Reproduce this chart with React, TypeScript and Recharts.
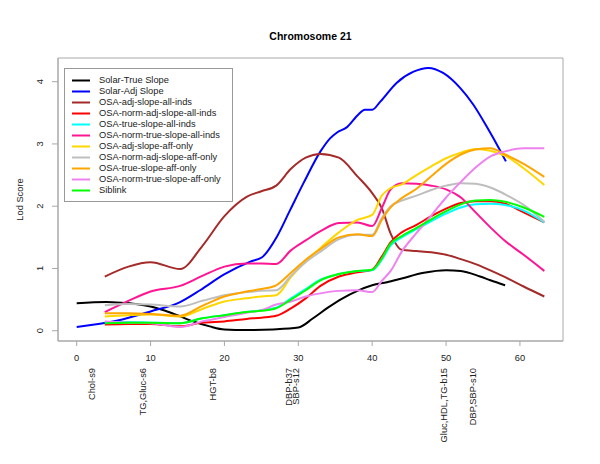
import React from 'react';
import { LineChart, Line, XAxis, YAxis, Legend, ReferenceArea, ReferenceLine } from 'recharts';

// ---- data ----
const TITLE = 'Chromosome 21';
const Y_LABEL = 'Lod Score';
const X_TICKS = [0, 10, 20, 30, 40, 50, 60];
const Y_TICKS = [0, 1, 2, 3, 4];
const MARKER_POS = [2, 9, 18.4, 28.7, 29.7, 49.7, 53.6];
const MARKER_LABELS = ['Chol-s9', 'TG,Gluc-s6', 'HGT-b8', 'DBP-b37', 'SBP-s12', 'Gluc,HDL,TG-b15', 'DBP,SBP-s10'];

const SOLAR_TRUE_X = [0, 4, 6, 8, 10, 12, 14, 16, 18, 20, 23, 26.6, 30, 32, 34, 36, 38, 40, 42, 44, 47, 50, 52, 54.6, 56, 58];
const SOLAR_TRUE_Y = [0.44, 0.46, 0.45, 0.43, 0.39, 0.32, 0.23, 0.14, 0.07, 0.02, 0.01, 0.02, 0.05, 0.2, 0.37, 0.52, 0.64, 0.73, 0.78, 0.84, 0.93, 0.97, 0.96, 0.87, 0.81, 0.73];

const SOLAR_ADJ_X = [0, 5.4, 10, 14, 16.7, 19.9, 23.5, 25.1, 27.1, 28.9, 30.7, 33, 34.3, 35.2, 36.6, 38.1, 39, 40, 41.1, 43.3, 45.6, 47.6, 49.6, 51.9, 53.7, 55.5, 57.3, 58.1];
const SOLAR_ADJ_Y = [0.06, 0.16, 0.31, 0.46, 0.65, 0.9, 1.11, 1.18, 1.51, 1.94, 2.37, 2.88, 3.09, 3.18, 3.27, 3.47, 3.55, 3.55, 3.68, 3.98, 4.16, 4.22, 4.14, 3.9, 3.63, 3.28, 2.9, 2.72];

const OSA_X = [3.8, 7, 10, 14, 17, 20, 23, 25, 27, 29, 31, 33, 35.5, 38, 40, 41.3, 42.5, 44, 46, 48, 50, 52, 54, 56, 58, 60.5, 63.3];
const OSA_ADJ_ALL = [0.87, 1.03, 1.10, 0.99, 1.36, 1.84, 2.15, 2.24, 2.33, 2.60, 2.78, 2.84, 2.78, 2.48, 2.21, 1.97, 1.56, 1.30, 1.28, 1.26, 1.22, 1.15, 1.07, 0.97, 0.86, 0.71, 0.55];
const OSA_NORM_ADJ_ALL = [0.10, 0.11, 0.11, 0.07, 0.13, 0.15, 0.19, 0.21, 0.24, 0.36, 0.52, 0.72, 0.87, 0.94, 0.98, 1.19, 1.42, 1.58, 1.70, 1.84, 1.96, 2.05, 2.08, 2.08, 2.04, 1.90, 1.74];
const OSA_TRUE_ALL = [0.14, 0.14, 0.13, 0.12, 0.20, 0.25, 0.30, 0.33, 0.37, 0.52, 0.67, 0.82, 0.91, 0.96, 0.97, 1.14, 1.37, 1.50, 1.63, 1.76, 1.88, 1.98, 2.03, 2.04, 2.02, 1.93, 1.74];
const OSA_NORM_TRUE_ALL = [0.30, 0.48, 0.63, 0.72, 0.88, 1.03, 1.08, 1.08, 1.07, 1.29, 1.45, 1.60, 1.73, 1.74, 1.68, 1.97, 2.27, 2.37, 2.36, 2.33, 2.27, 2.14, 1.90, 1.66, 1.44, 1.22, 0.96];
const OSA_ADJ_AFF = [0.23, 0.25, 0.26, 0.23, 0.35, 0.47, 0.52, 0.55, 0.57, 0.86, 1.12, 1.33, 1.58, 1.78, 1.86, 2.17, 2.29, 2.35, 2.50, 2.64, 2.77, 2.86, 2.92, 2.89, 2.81, 2.61, 2.34];
const OSA_NORM_ADJ_AFF = [0.41, 0.43, 0.42, 0.39, 0.48, 0.57, 0.62, 0.64, 0.65, 0.88, 1.10, 1.27, 1.47, 1.54, 1.54, 1.81, 2.00, 2.09, 2.17, 2.26, 2.33, 2.37, 2.36, 2.30, 2.19, 2.02, 1.75];
const OSA_TRUE_AFF = [0.28, 0.28, 0.27, 0.24, 0.40, 0.55, 0.63, 0.67, 0.73, 0.93, 1.14, 1.31, 1.50, 1.55, 1.52, 1.78, 1.98, 2.13, 2.28, 2.48, 2.68, 2.83, 2.91, 2.93, 2.83, 2.68, 2.47];
const OSA_NORM_TRUE_AFF = [0.15, 0.13, 0.12, 0.06, 0.15, 0.22, 0.29, 0.33, 0.42, 0.47, 0.55, 0.60, 0.64, 0.65, 0.62, 0.80, 0.96, 1.27, 1.57, 1.85, 2.14, 2.39, 2.62, 2.80, 2.88, 2.93, 2.93];
const SIBLINK = [0.12, 0.13, 0.13, 0.12, 0.20, 0.25, 0.30, 0.32, 0.36, 0.50, 0.65, 0.81, 0.91, 0.96, 0.98, 1.16, 1.40, 1.52, 1.65, 1.79, 1.92, 2.03, 2.09, 2.10, 2.07, 1.98, 1.83];

const toPoints = (xs: number[], ys: number[]) => xs.map((x, i) => ({ x, y: ys[i] }));

const SERIES = [
  { name: 'Solar-True Slope', color: '#000000', data: toPoints(SOLAR_TRUE_X, SOLAR_TRUE_Y) },
  { name: 'Solar-Adj Slope', color: '#0000FF', data: toPoints(SOLAR_ADJ_X, SOLAR_ADJ_Y) },
  { name: 'OSA-adj-slope-all-inds', color: '#A52A2A', data: toPoints(OSA_X, OSA_ADJ_ALL) },
  { name: 'OSA-norm-adj-slope-all-inds', color: '#FF0000', data: toPoints(OSA_X, OSA_NORM_ADJ_ALL) },
  { name: 'OSA-true-slope-all-inds', color: '#00FFFF', data: toPoints(OSA_X, OSA_TRUE_ALL) },
  { name: 'OSA-norm-true-slope-all-inds', color: '#FF1493', data: toPoints(OSA_X, OSA_NORM_TRUE_ALL) },
  { name: 'OSA-adj-slope-aff-only', color: '#FFD700', data: toPoints(OSA_X, OSA_ADJ_AFF) },
  { name: 'OSA-norm-adj-slope-aff-only', color: '#BEBEBE', data: toPoints(OSA_X, OSA_NORM_ADJ_AFF) },
  { name: 'OSA-true-slope-aff-only', color: '#FFA500', data: toPoints(OSA_X, OSA_TRUE_AFF) },
  { name: 'OSA-norm-true-slope-aff-only', color: '#EE82EE', data: toPoints(OSA_X, OSA_NORM_TRUE_AFF) },
  { name: 'Siblink', color: '#00FF00', data: toPoints(OSA_X, SIBLINK) },
];

const X_DOMAIN: [number, number] = [-2.53, 65.83];
const Y_DOMAIN: [number, number] = [-0.165, 4.38];

const FONT = '"Liberation Sans", Arial, Helvetica, sans-serif';
const AXIS_COLOR = '#a8a8a8';
const TEXT_COLOR = '#222';

const XTick = (props: any) => {
  const { x, payload } = props;
  return (
    <text x={x} y={357.3} dy="0.35em" textAnchor="middle" fontSize={9.3} fontFamily={FONT} fill={TEXT_COLOR}>
      {payload.value}
    </text>
  );
};

const YTick = (props: any) => {
  const { y, payload } = props;
  return (
    <text x={0} y={0} transform={`translate(40, ${y}) rotate(-90)`} dy="0.35em" textAnchor="middle" fontSize={9.3} fontFamily={FONT} fill={TEXT_COLOR}>
      {payload.value}
    </text>
  );
};

const markerLabel = (text: string) => (props: any) => {
  const vb = props.viewBox || {};
  return (
    <text x={0} y={0} transform={`translate(${vb.x}, 368) rotate(-90)`} dy="0.35em" textAnchor="end" fontSize={9.3} fontFamily={FONT} fill={TEXT_COLOR}>
      {text}
    </text>
  );
};

const LegendBox = () => (
  <div
    style={{
      width: 169,
      boxSizing: 'border-box',
      border: '1px solid #999',
      background: '#fff',
      padding: '5.5px 0 5.5px 0',
      fontFamily: FONT,
      fontSize: 9.3,
      color: TEXT_COLOR,
    }}
  >
    {SERIES.map((s) => (
      <div key={s.name} style={{ height: 11, display: 'flex', alignItems: 'center', whiteSpace: 'nowrap' }}>
        <svg width={34} height={11} style={{ flex: 'none' }}>
          <line x1={7} x2={25} y1={5.5} y2={5.5} stroke={s.color} strokeWidth={2} />
        </svg>
        <span style={{ lineHeight: '11px' }}>{s.name}</span>
      </div>
    ))}
  </div>
);

export default function App() {
  return (
    <div style={{ position: 'absolute', left: 0, top: 0, width: 600, height: 464, background: '#fff' }}>
      <LineChart width={600} height={464} margin={{ top: 58, right: 37, bottom: 93, left: 18 }}>
        <XAxis
          dataKey="x"
          type="number"
          domain={X_DOMAIN}
          allowDataOverflow
          ticks={X_TICKS}
          interval={0}
          height={30}
          stroke={AXIS_COLOR}
          tickSize={5}
          tickLine={{ stroke: AXIS_COLOR }}
          tick={<XTick />}
          label={() => (
            <text x={310.5} y={39.5} textAnchor="middle" fontSize={10.5} fontWeight="bold" fontFamily={FONT} fill="#000">
              {TITLE}
            </text>
          )}
        />
        <YAxis
          type="number"
          domain={Y_DOMAIN}
          allowDataOverflow
          ticks={Y_TICKS}
          interval={0}
          width={40}
          stroke={AXIS_COLOR}
          tickSize={6}
          tickLine={{ stroke: AXIS_COLOR }}
          tick={<YTick />}
          label={() => (
            <text x={0} y={0} transform="translate(20, 199.5) rotate(-90)" dy="0.35em" textAnchor="middle" fontSize={9.3} fontFamily={FONT} fill={TEXT_COLOR}>
              {Y_LABEL}
            </text>
          )}
        />
        <ReferenceArea
          x1={X_DOMAIN[0]}
          x2={X_DOMAIN[1]}
          y1={Y_DOMAIN[0]}
          y2={Y_DOMAIN[1]}
          fill="none"
          fillOpacity={0}
          stroke={AXIS_COLOR}
          strokeWidth={1}
          ifOverflow="visible"
        />
        {MARKER_POS.map((p, i) => (
          <ReferenceLine
            key={MARKER_LABELS[i]}
            x={p}
            stroke="none"
            strokeOpacity={0}
            label={markerLabel(MARKER_LABELS[i])}
          />
        ))}
        <Legend
          layout="vertical"
          align="center"
          verticalAlign="middle"
          wrapperStyle={{ left: 64, top: 68, width: 169 }}
          content={() => <LegendBox />}
        />
        {SERIES.map((s) => (
          <Line
            key={s.name}
            data={s.data}
            dataKey="y"
            name={s.name}
            type="monotone"
            stroke={s.color}
            strokeWidth={2}
            dot={false}
            activeDot={false}
            isAnimationActive={false}
          />
        ))}
      </LineChart>
    </div>
  );
}
